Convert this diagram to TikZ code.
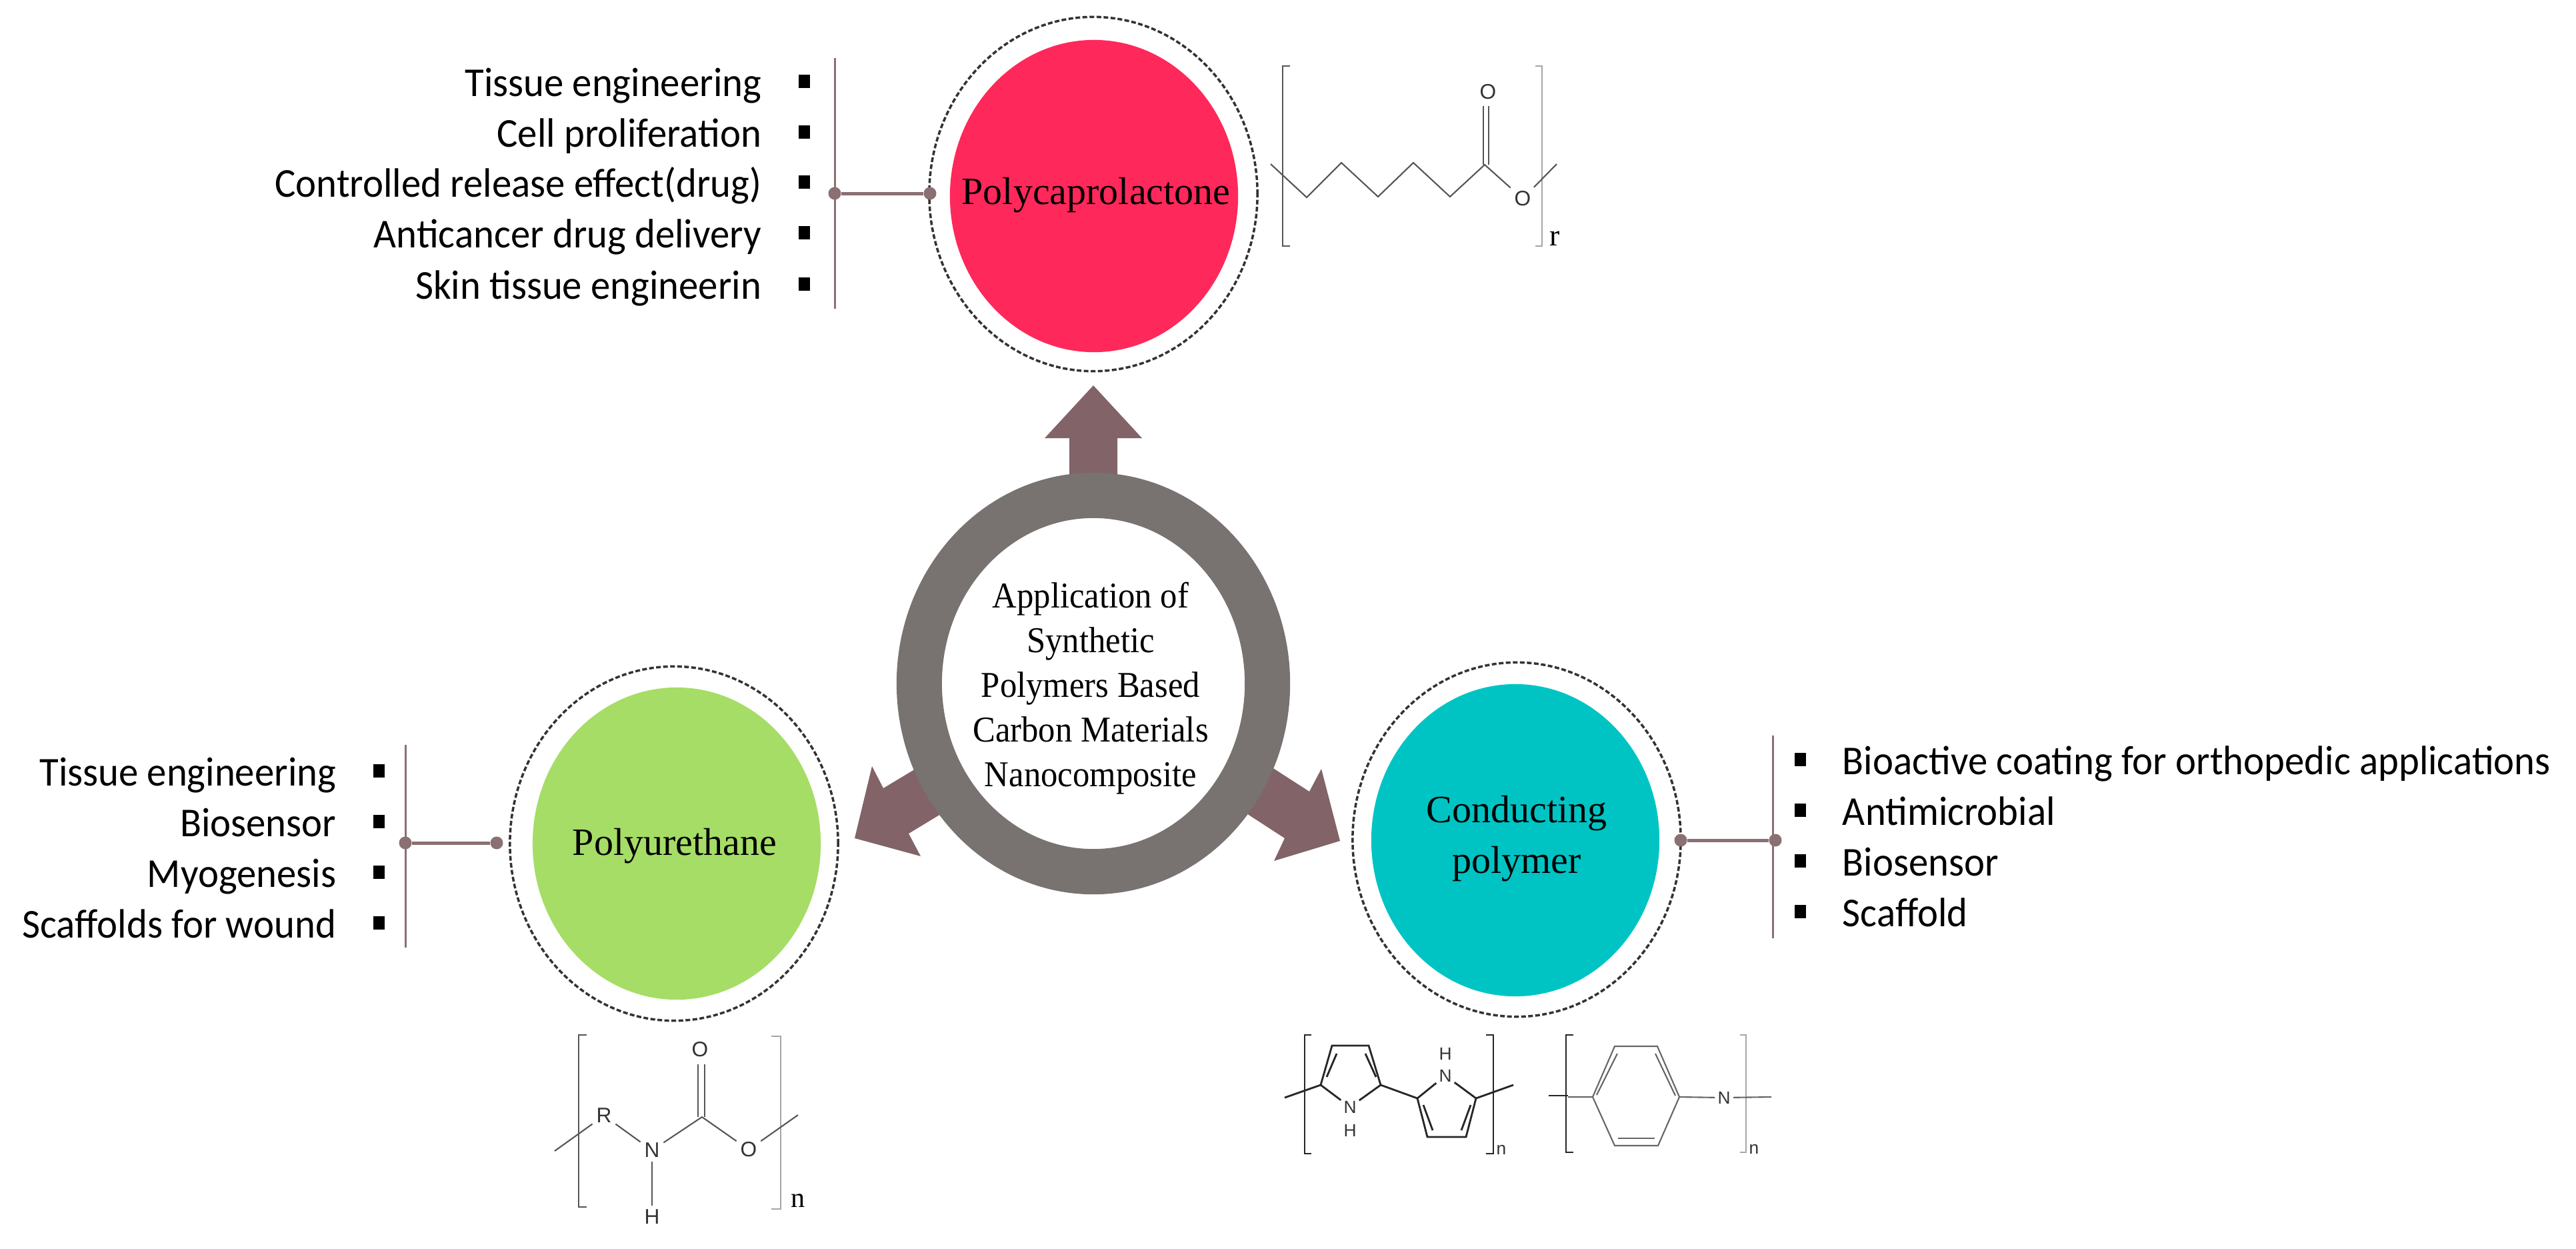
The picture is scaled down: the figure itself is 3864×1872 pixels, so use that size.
\documentclass[tikz,border=0pt]{standalone}
\usepackage{fontspec}
\setmainfont{Liberation Serif}
\setsansfont[FakeStretch=0.955]{Carlito}
\newfontfamily\titlefont[FakeStretch=0.93]{Liberation Serif}
\newfontfamily\atomfont{Liberation Sans}
\usetikzlibrary{positioning,shapes.geometric}

\definecolor{ringgrey}{HTML}{787270}
\definecolor{arrowmauve}{HTML}{826367}
\definecolor{linkmauve}{HTML}{8A6F73}
\definecolor{pclred}{HTML}{FF285A}
\definecolor{pugreen}{HTML}{A6DD66}
\definecolor{cpcyan}{HTML}{00C4C4}
\definecolor{bondgrey}{HTML}{555555}

\begin{document}
\begin{tikzpicture}[
  x=0.01cm, y=-0.01cm,
  disk/.style={ellipse, inner sep=0pt, minimum width=4.32cm, minimum height=4.68cm},
  disklabel/.style={inner sep=0pt, align=center, font=\fontsize{16.5}{21.6}\selectfont},
  halo/.style={ellipse, draw=black!80, line width=1pt, dash pattern=on 2pt off 1pt, inner sep=0pt,
    minimum width=4.92cm, minimum height=5.31cm},
  bigarrow/.style={fill=arrowmauve},
  spine/.style={fill=linkmauve, inner sep=0pt, minimum width=0.03cm},
  dot/.style={circle, fill=linkmauve, inner sep=0pt, minimum size=0.19cm},
  link/.style={draw=linkmauve, line width=0.05cm},
  bullet/.style={fill=black, inner sep=0pt, minimum width=0.17cm, minimum height=0.2cm},
  item/.style={inner sep=0pt, text height=17pt, text depth=4pt,
    font=\sffamily\fontsize{17.5}{21}\selectfont},
  bond/.style={draw=bondgrey, line width=0.6pt},
  lightbond/.style={draw=black!35, line width=0.6pt},
  atom/.style={inner sep=1.5pt, text=black!80, font=\atomfont\fontsize{9}{10}\selectfont},
  smallatom/.style={inner sep=1pt, text=black!80, font=\atomfont\fontsize{7.5}{9}\selectfont},
  node distance=0.54cm
]
\useasboundingbox (0,0) rectangle (3864,1872);

% Block arrows (under the ring)
\fill[bigarrow] (1640,578) -- (1713,657) -- (1676,657) -- (1676,725) -- (1604,725) -- (1604,657) -- (1567,657) -- cycle;
\fill[bigarrow] (1282,1257) -- (1308,1149) -- (1325,1182) -- (1390,1143) -- (1429,1210) -- (1363,1250) -- (1381,1284) -- cycle;
\fill[bigarrow] (2010,1261) -- (1982,1153) -- (1964,1187) -- (1888,1138) -- (1850,1207) -- (1927,1257) -- (1911,1291) -- cycle;

% Centre ring
\node[ellipse, draw=ringgrey, line width=0.68cm, inner sep=0pt, minimum width=5.22cm, minimum height=5.64cm] (hub) at (1640,1025) {};
\node[align=center, inner sep=0pt, font=\titlefont\fontsize{15.5}{19}\selectfont] (title) at (1636,1032)
  {Application of\\Synthetic\\Polymers Based\\Carbon Materials\\Nanocomposite};

% Polymer discs
\node[disk, fill=pclred] (pcl) at (1641,294) {};
\node[halo] (pclhalo) at (1640,291) {};
\node[disklabel, anchor=base] (pcltext) at (1644,306) {Polycaprolactone};
\node[disk, fill=pugreen] (pu) at (1015,1265) {};
\node[halo] (puhalo) at (1011,1265) {};
\node[disklabel, anchor=base] (putext) at (1012,1282) {Polyurethane};
\node[disk, fill=cpcyan] (cp) at (2273,1260) {};
\node[halo] (cphalo) at (2275,1259) {};
\node[disklabel] (cptext) at (2275,1258) {Conducting\\polymer};

% Spines and links
\node[spine, minimum height=3.76cm] (pclspine) at (1252,275) {};
\node[dot] (pclL) at (1252,290) {};
\node[dot] (pclR) at (1395,290) {};
\draw[link] (pclL) -- (pclR);

\node[spine, minimum height=3.04cm] (puspine) at (608,1269) {};
\node[dot] (puL) at (608,1264) {};
\node[dot] (puR) at (745,1264) {};
\draw[link] (puL) -- (puR);

\node[spine, minimum height=3.04cm] (cpspine) at (2659,1255) {};
\node[dot] (cpL) at (2521,1260) {};
\node[dot] (cpR) at (2663,1260) {};
\draw[link] (cpL) -- (cpR);

% Polycaprolactone list
\node[bullet] (pclb1) at (1206,122) {};
\node[bullet] (pclb2) at (1206,198) {};
\node[bullet] (pclb3) at (1206,273) {};
\node[bullet] (pclb4) at (1206,349) {};
\node[bullet] (pclb5) at (1206,426) {};
\node[item, left=of pclb1] (pcli1) {Tissue engineering};
\node[item, left=of pclb2] (pcli2) {Cell proliferation};
\node[item, left=of pclb3] (pcli3) {Controlled release effect(drug)};
\node[item, left=of pclb4] (pcli4) {Anticancer drug delivery};
\node[item, left=of pclb5] (pcli5) {Skin tissue engineerin};

% Polyurethane list
\node[bullet] (pub1) at (568,1156) {};
\node[bullet] (pub2) at (568,1232) {};
\node[bullet] (pub3) at (568,1308) {};
\node[bullet] (pub4) at (568,1384) {};
\node[item, left=of pub1] (pui1) {Tissue engineering};
\node[item, left=of pub2] (pui2) {Biosensor};
\node[item, left=of pub3] (pui3) {Myogenesis};
\node[item, left=of pub4] (pui4) {Scaffolds for wound};

% Conducting polymer list
\node[bullet] (cpb1) at (2700,1139) {};
\node[bullet] (cpb2) at (2700,1215) {};
\node[bullet] (cpb3) at (2700,1291) {};
\node[bullet] (cpb4) at (2700,1367) {};
\node[item, right=of cpb1] (cpi1) {Bioactive coating for orthopedic applications};
\node[item, right=of cpb2] (cpi2) {Antimicrobial};
\node[item, right=of cpb3] (cpi3) {Biosensor};
\node[item, right=of cpb4] (cpi4) {Scaffold};

% Polycaprolactone formula
\node[atom] (pclOa) at (2232,138) {O};
\node[atom] (pclOb) at (2284,298) {O};
\node[font=\fontsize{13}{14}\selectfont, inner sep=0pt] (pclr) at (2332,358) {r};
\draw[bond] (1935,99) -- (1924,99) -- (1924,369) -- (1935,369);
\draw[lightbond] (2303,99) -- (2313,99) -- (2313,369) -- (2303,369);
\draw[bond] (1906,246) -- (1960,296) -- (2012,244) -- (2067,295) -- (2120,244) -- (2175,295) -- (2227,247) -- (pclOb);
\draw[bond] (pclOb) -- (2335,246);
\draw[bond] (2225,247) -- (2225,159);
\draw[bond] (2233,247) -- (2233,159);

% Polyurethane formula
\node[atom] (puR1) at (906,1673) {R};
\node[atom] (puN) at (978,1725) {N};
\node[atom] (puOa) at (1050,1574) {O};
\node[atom] (puOb) at (1123,1724) {O};
\node[atom] (puH) at (978,1825) {H};
\node[font=\fontsize{12}{14}\selectfont, inner sep=0pt] (pun) at (1197,1801) {n};
\draw[bond] (880,1552) -- (868,1552) -- (868,1810) -- (880,1810);
\draw[lightbond] (1157,1554) -- (1171,1554) -- (1171,1813) -- (1157,1813);
\draw[bond] (832,1726) -- (puR1);
\draw[bond] (puR1) -- (puN);
\draw[bond] (puN) -- (1053,1675) -- (puOb);
\draw[bond] (puOb) -- (1197,1672);
\draw[bond] (puN) -- (puH);
\draw[bond] (1047,1675) -- (1047,1596);
\draw[bond] (1057,1675) -- (1057,1596);

% Polypyrrole formula
\node[smallatom] (ppyNa) at (2025,1660) {N};
\node[smallatom] (ppyHa) at (2025,1695) {H};
\node[smallatom] (ppyNb) at (2168,1613) {N};
\node[smallatom] (ppyHb) at (2168,1580) {H};
\node[smallatom] (ppyn) at (2252,1724) {n};
\begin{scope}[bond, draw=black!85, line width=0.8pt]
\draw (1967,1552) -- (1957,1552) -- (1957,1730) -- (1967,1730);
\draw (2229,1552) -- (2240,1552) -- (2240,1730) -- (2229,1730);
\draw (1927,1646) -- (1981,1627) -- (1998,1568) -- (2053,1568) -- (2071,1627) -- (2126,1647) -- (2141,1705) -- (2199,1705) -- (2214,1647) -- (2270,1627);
\draw (1981,1627) -- (ppyNa);
\draw (2071,1627) -- (ppyNa);
\draw (2126,1647) -- (ppyNb);
\draw (2214,1647) -- (ppyNb);
\draw (2005,1580) -- (1990,1615);
\draw (2048,1580) -- (2064,1615);
\draw (2135,1657) -- (2149,1695);
\draw (2206,1657) -- (2192,1695);
\end{scope}

% Polyaniline formula
\node[smallatom] (paniN) at (2586,1646) {N};
\node[smallatom] (panin) at (2631,1723) {n};
\draw[bond, draw=black!85] (2360,1552) -- (2349,1552) -- (2349,1728) -- (2360,1728);
\draw[lightbond] (2610,1552) -- (2619,1552) -- (2619,1728) -- (2610,1728);
\draw[bond, draw=black!85] (2323,1643) -- (2352,1643);
\draw[bond, draw=black!60] (2352,1645) -- (2389,1645) -- (2422,1569) -- (2486,1569) -- (2519,1645) -- (2487,1718) -- (2422,1718) -- (2389,1645);
\draw[bond, draw=black!60] (2519,1645) -- (paniN);
\draw[bond, draw=black!60] (paniN) -- (2657,1645);
\draw[bond, draw=black!60] (2395,1642) -- (2426,1580);
\draw[bond, draw=black!60] (2513,1643) -- (2483,1580);
\draw[bond, draw=black!60] (2427,1707) -- (2482,1707);

\end{tikzpicture}
\end{document}
